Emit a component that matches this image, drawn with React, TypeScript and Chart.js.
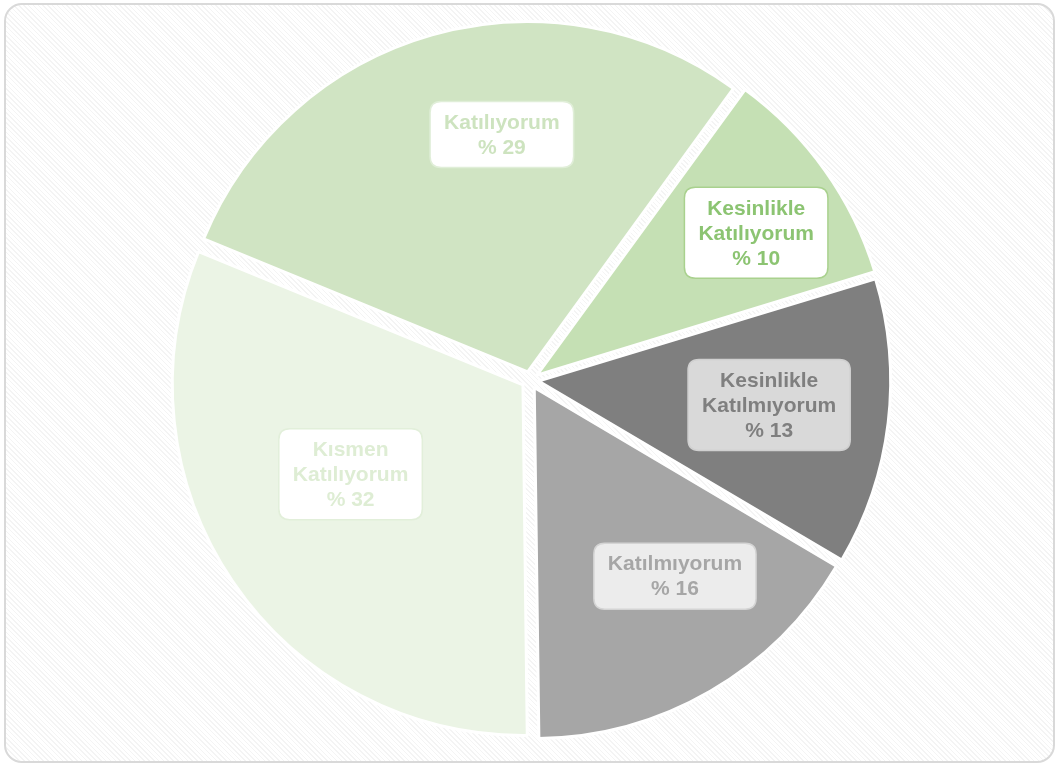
import React, { useEffect, useRef } from "react";
import { Chart, registerables } from "chart.js";

Chart.register(...registerables);

// ---- data ----
const categories: string[] = [
  "Kesinlikle Katılıyorum",
  "Kesinlikle Katılmıyorum",
  "Katılmıyorum",
  "Kısmen Katılıyorum",
  "Katılıyorum",
];
// slice shares
const values: number[] = [10.3, 13.2, 16.3, 31.4, 28.8];
// percentages printed in the labels
const percentLabels: string[] = ["% 10", "% 13", "% 16", "% 32", "% 29"];
const labelLines: string[][] = [
  ["Kesinlikle", "Katılıyorum"],
  ["Kesinlikle", "Katılmıyorum"],
  ["Katılmıyorum"],
  ["Kısmen", "Katılıyorum"],
  ["Katılıyorum"],
];

// ---- styles ----
const sliceColors = ["#c5e0b4", "#7f7f7f", "#a6a6a6", "#ebf4e5", "#d0e4c3"];
const boxFill = ["#ffffff", "#d9d9d9", "#ececec", "#ffffff", "#ffffff"];
const boxBorder = ["#a9d18e", "#d0d0d0", "#d4d4d4", "#e2efda", "#e0eed8"];
const textColor = ["#8cc472", "#7f7f7f", "#a6a6a6", "#deedd4", "#cde3bf"];
// label anchor: angle shift (deg) from slice middle, distance as fraction of radius
const labelPlace = [
  { da: 2.4, f: 0.771 },
  { da: -0.85, f: 0.687 },
  { da: -6.4, f: 0.697 },
  { da: 6.5, f: 0.579 },
  { da: 9.3, f: 0.706 },
];

const FONT = "bold 21px 'Liberation Sans', Arial, sans-serif";
const LINE_H = 25;
const PAD_X = 14;
const PAD_Y = 8;

function roundRect(ctx: CanvasRenderingContext2D, x: number, y: number, w: number, h: number, r: number) {
  ctx.beginPath();
  ctx.moveTo(x + r, y);
  ctx.lineTo(x + w - r, y);
  ctx.quadraticCurveTo(x + w, y, x + w, y + r);
  ctx.lineTo(x + w, y + h - r);
  ctx.quadraticCurveTo(x + w, y + h, x + w - r, y + h);
  ctx.lineTo(x + r, y + h);
  ctx.quadraticCurveTo(x, y + h, x, y + h - r);
  ctx.lineTo(x, y + r);
  ctx.quadraticCurveTo(x, y, x + r, y);
  ctx.closePath();
}

const boxLabelPlugin = {
  id: "boxLabels",
  afterDatasetsDraw(chart: any) {
    const ctx: CanvasRenderingContext2D = chart.ctx;
    const meta = chart.getDatasetMeta(0);
    ctx.save();
    ctx.font = FONT;
    ctx.textAlign = "center";
    ctx.textBaseline = "middle";
    meta.data.forEach((arc: any, i: number) => {
      const p = arc.getProps(["x", "y", "startAngle", "endAngle", "outerRadius"], true);
      const mid = (p.startAngle + p.endAngle) / 2 + (labelPlace[i].da * Math.PI) / 180;
      const r = p.outerRadius * labelPlace[i].f;
      const cx = p.x + Math.cos(mid) * r;
      const cy = p.y + Math.sin(mid) * r;
      const lines = [...labelLines[i], percentLabels[i]];
      let w = 0;
      lines.forEach((l) => (w = Math.max(w, ctx.measureText(l).width)));
      const bw = w + PAD_X * 2;
      const bh = lines.length * LINE_H + PAD_Y * 2;
      roundRect(ctx, cx - bw / 2, cy - bh / 2, bw, bh, 11);
      ctx.fillStyle = boxFill[i];
      ctx.fill();
      ctx.lineWidth = 1.5;
      ctx.strokeStyle = boxBorder[i];
      ctx.stroke();
      ctx.fillStyle = textColor[i];
      lines.forEach((l, k) => {
        ctx.fillText(l, cx, cy - bh / 2 + PAD_Y + LINE_H * k + LINE_H / 2 + 1);
      });
    });
    ctx.restore();
  },
};

export default function App() {
  const ref = useRef<HTMLCanvasElement | null>(null);
  useEffect(() => {
    document.body.style.margin = "0";
    document.body.style.overflow = "hidden";
    if (!ref.current) return;
    const chart = new Chart(ref.current, {
      type: "pie",
      data: {
        labels: categories,
        datasets: [
          {
            data: values,
            backgroundColor: sliceColors,
            borderColor: "#ffffff",
            borderWidth: 3,
            offset: 34,
            hoverOffset: 0,
          },
        ],
      },
      options: {
        responsive: false,
        animation: false,
        events: [],
        rotation: 36,
        radius: 350,
        layout: { padding: { left: 3, right: 0, top: 0, bottom: 5 } },
        plugins: {
          legend: { display: false },
          tooltip: { enabled: false },
        },
      },
      plugins: [boxLabelPlugin],
    });
    return () => chart.destroy();
  }, []);

  return (
    <div style={{ position: "relative", width: 1057, height: 765 }}>
      <div
        style={{
          position: "absolute",
          left: 4,
          top: 3,
          width: 1051,
          height: 760,
          boxSizing: "border-box",
          border: "2px solid #d9d9d9",
          borderRadius: 18,
          background:
            "repeating-linear-gradient(45deg, #ffffff 0px, #ffffff 2.3px, #f4f4f4 2.3px, #f4f4f4 3.4px)",
        }}
      />
      <canvas
        ref={ref}
        width={1057}
        height={765}
        style={{ position: "absolute", left: 0, top: 0, width: 1057, height: 765 }}
      />
    </div>
  );
}
